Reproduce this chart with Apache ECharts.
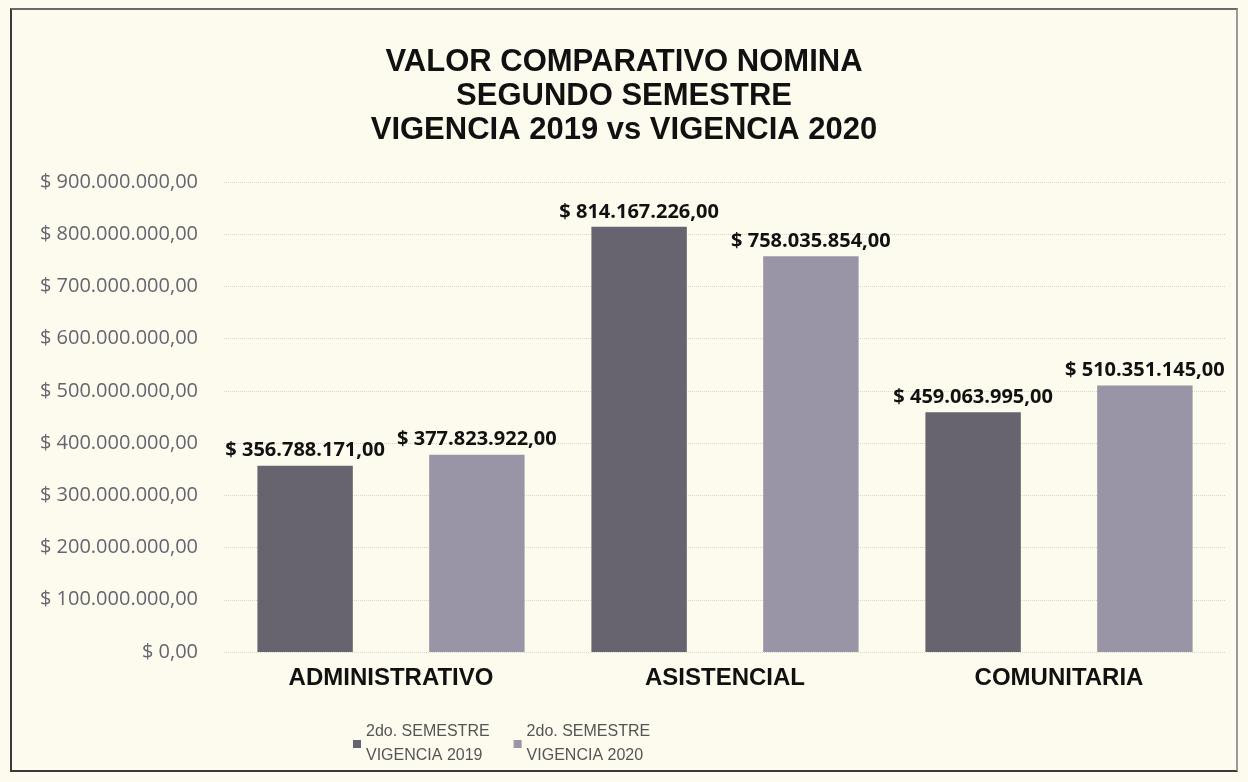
<!DOCTYPE html>
<html>
<head>
<meta charset="utf-8">
<script src="https://cdn.jsdelivr.net/npm/echarts@6/dist/echarts.min.js"></script>
<style>
  html, body { margin: 0; padding: 0; background: #fdfbee; }
  #chart {
    position: absolute; left: 10px; top: 8px; width: 1224px; height: 760px;
    border: 2px solid #3a3a3a; border-right-color: #9a9a9a; border-top-color: #6a6a6a;
    background: #fdfbee;
  }
</style>
</head>
<body>
<div id="chart"></div>
<script>
const categories = ['ADMINISTRATIVO', 'ASISTENCIAL', 'COMUNITARIA'];
const seriesNames = ['2do. SEMESTRE\nVIGENCIA 2019', '2do. SEMESTRE\nVIGENCIA 2020'];
const vigencia2019 = [356788171, 814167226, 459063995];
const vigencia2020 = [377823922, 758035854, 510351145];
const titleLines = ['VALOR COMPARATIVO NOMINA', 'SEGUNDO SEMESTRE', 'VIGENCIA 2019 vs VIGENCIA 2020'];

const fmtMoney = (v) => {
    const s = Math.round(v).toString().replace(/\B(?=(\d{3})+(?!\d))/g, '.');
    return '$ ' + s + ',00';
};

const chart = echarts.init(document.getElementById('chart'));

const labelStyle = {
    show: true,
    position: 'top',
    distance: 5,
    color: '#111',
    fontFamily: 'Open Sans',
    fontWeight: 'bold',
    fontSize: 20,
    formatter: p => fmtMoney(p.value)
};

const option = {
    backgroundColor: '#fdfbee',
    animation: false,
    title: {
        text: titleLines.join('\n'),
        left: 'center',
        top: 30,
        textStyle: {
            fontFamily: 'Liberation Sans',
            fontWeight: 'bold',
            fontSize: 31,
            lineHeight: 34,
            color: '#111'
        }
    },
    legend: {
        top: 705,
        left: 336,
        itemWidth: 8,
        itemHeight: 8,
        itemGap: 24,
        icon: 'rect',
        textStyle: {
            fontFamily: 'Liberation Sans',
            fontSize: 16,
            lineHeight: 24,
            color: '#555'
        },
        data: seriesNames
    },
    grid: {
        left: 212,
        right: 10,
        top: 172,
        bottom: 118,
        containLabel: false
    },
    xAxis: {
        type: 'category',
        data: categories,
        axisLine: { show: false },
        axisTick: { show: false },
        axisLabel: {
            color: '#111',
            fontFamily: 'Liberation Sans',
            fontWeight: 'bold',
            fontSize: 24,
            margin: 14
        }
    },
    yAxis: {
        type: 'value',
        min: 0,
        max: 900000000,
        interval: 100000000,
        axisLine: { show: false },
        axisTick: { show: false },
        axisLabel: {
            color: '#666470',
            fontFamily: 'Open Sans',
            fontSize: 20,
            margin: 26,
            formatter: v => v === 0 ? '$ 0,00' : fmtMoney(v)
        },
        splitLine: { lineStyle: { color: '#d9d6c8', type: 'dotted', width: 1 } }
    },
    series: [
        {
            name: seriesNames[0],
            type: 'bar',
            data: vigencia2019,
            barGap: '80%',
            barCategoryGap: '20%',
            itemStyle: { color: '#68646f' },
            label: labelStyle
        },
        {
            name: seriesNames[1],
            type: 'bar',
            data: vigencia2020,
            itemStyle: { color: '#9a95a6' },
            label: labelStyle
        }
    ]
};

chart.setOption(option);
</script>
</body>
</html>
